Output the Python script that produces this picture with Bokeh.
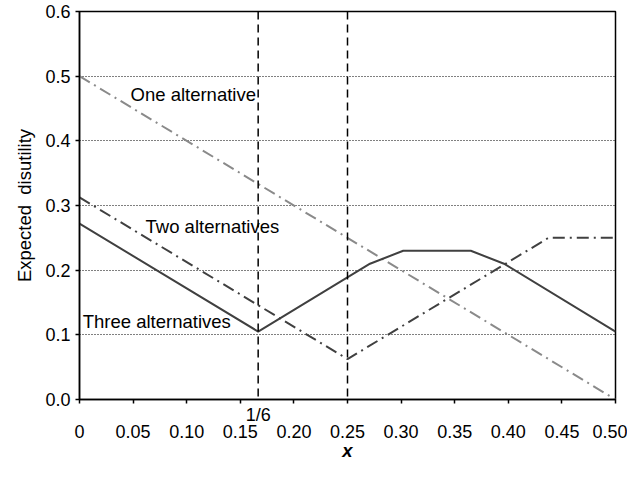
from bokeh.plotting import figure
from bokeh.models import FixedTicker, Span, LinearAxis
from bokeh.core.properties import value
from bokeh.embed import file_html
from bokeh.resources import INLINE

# ---- data ----
x_one = [0.0, 0.5]
y_one = [0.5, 0.0]

x_two = [0.0, 0.25, 0.4375, 0.5]
y_two = [0.3125, 0.0625, 0.25, 0.25]

x_three = [0.0, 1/6, 0.271, 0.302, 0.365, 0.396, 0.5]
y_three = [0.272, 0.105, 0.21, 0.23, 0.23, 0.21, 0.105]

series_labels = ["One alternative", "Two alternatives", "Three alternatives"]
marker_x = [1/6, 0.25]
marker_label = "1/6"

x_ticks = [0.0, 0.05, 0.10, 0.15, 0.20, 0.25, 0.30, 0.35, 0.40, 0.45, 0.50]
x_tick_labels = ["0", "0.05", "0.10", "0.15", "0.20", "0.25", "0.30", "0.35", "0.40", "0.45", "0.50"]
y_ticks = [0.0, 0.1, 0.2, 0.3, 0.4, 0.5, 0.6]
y_tick_labels = ["0.0", "0.1", "0.2", "0.3", "0.4", "0.5", "0.6"]
grid_y = [0.1, 0.2, 0.3, 0.4, 0.5]

FONT = "Liberation Sans"
TICK_SIZE = "18px"
TEXT_SIZE = "18.5px"

p = figure(width=627, height=463, x_range=(0, 0.5), y_range=(0, 0.6),
           output_backend="svg", toolbar_location=None, x_axis_location=None,
           min_border_left=79, min_border_right=12, min_border_top=11, min_border_bottom=40)

p.background_fill_color = "white"
p.border_fill_color = "white"
p.outline_line_color = "black"
p.outline_line_width = 1.5

# grid
p.xgrid.visible = False
p.ygrid.ticker = FixedTicker(ticks=grid_y)
p.ygrid.grid_line_color = "black"
p.ygrid.grid_line_dash = "1 2"
p.ygrid.grid_line_width = 1

# y axis
ya = p.yaxis[0]
ya.ticker = FixedTicker(ticks=y_ticks)
ya.major_label_overrides = {t: s for t, s in zip(y_ticks, y_tick_labels)}
ya.axis_line_color = "black"
ya.axis_line_width = 1.5
ya.major_tick_line_color = "black"
ya.major_tick_line_width = 1.5
ya.major_tick_in = 0
ya.major_tick_out = 4
ya.minor_tick_line_color = None
ya.major_label_text_font = FONT
ya.major_label_text_font_size = TICK_SIZE
ya.major_label_text_color = "black"
ya.major_label_standoff = 5
ya.axis_label = "Expected\u00a0\u00a0disutility"
ya.axis_label_text_font = FONT
ya.axis_label_text_font_size = TEXT_SIZE
ya.axis_label_text_font_style = "normal"
ya.axis_label_text_color = "black"
ya.axis_label_standoff = 7

# x axis, inner: tick marks and the 1/6 label
xa = LinearAxis(ticker=FixedTicker(ticks=[marker_x[0]], minor_ticks=x_ticks))
xa.major_label_overrides = {marker_x[0]: marker_label}
xa.axis_line_color = "black"
xa.axis_line_width = 1.5
xa.major_tick_line_color = None
xa.major_tick_out = 0
xa.major_tick_in = 0
xa.minor_tick_line_color = "black"
xa.minor_tick_line_width = 1.5
xa.minor_tick_in = 0
xa.minor_tick_out = 4
xa.major_label_text_font = FONT
xa.major_label_text_font_size = TICK_SIZE
xa.major_label_text_color = "black"
xa.major_label_standoff = 1
p.add_layout(xa, "below")

# x axis, outer: numeric labels and title
xb = LinearAxis(ticker=FixedTicker(ticks=x_ticks))
xb.major_label_overrides = {t: s for t, s in zip(x_ticks, x_tick_labels)}
xb.axis_line_color = None
xb.major_tick_line_color = None
xb.major_tick_out = 0
xb.major_tick_in = 0
xb.minor_tick_line_color = None
xb.major_label_text_font = FONT
xb.major_label_text_font_size = TICK_SIZE
xb.major_label_text_color = "black"
xb.major_label_standoff = -3
xb.axis_label = "x"
xb.axis_label_text_font = FONT
xb.axis_label_text_font_size = TEXT_SIZE
xb.axis_label_text_font_style = "bold italic"
xb.axis_label_text_color = "black"
xb.axis_label_standoff = -1
p.add_layout(xb, "below")

# vertical dashed markers
for mx in marker_x:
    p.add_layout(Span(location=mx, dimension="height", line_color="black",
                      line_width=1.5, line_dash="8 5"))

# series
p.line(x_one, y_one, line_color="#8a8a8a", line_width=2, line_dash="12 5 2 5")
p.line(x_two, y_two, line_color="#404040", line_width=2, line_dash="12 5 2 5")
p.line(x_three, y_three, line_color="#404040", line_width=2)

# series labels
p.text(x=[0.0476], y=[0.472], text=[series_labels[0]], text_font=value(FONT),
       text_font_size=TEXT_SIZE, text_baseline="middle", text_align="left", text_color="black")
p.text(x=[0.0616], y=[0.268], text=[series_labels[1]], text_font=value(FONT),
       text_font_size=TEXT_SIZE, text_baseline="middle", text_align="left", text_color="black")
p.text(x=[0.003], y=[0.121], text=[series_labels[2]], text_font=value(FONT),
       text_font_size=TEXT_SIZE, text_baseline="middle", text_align="left", text_color="black")

open("out.html", "w").write(file_html(p, INLINE))
